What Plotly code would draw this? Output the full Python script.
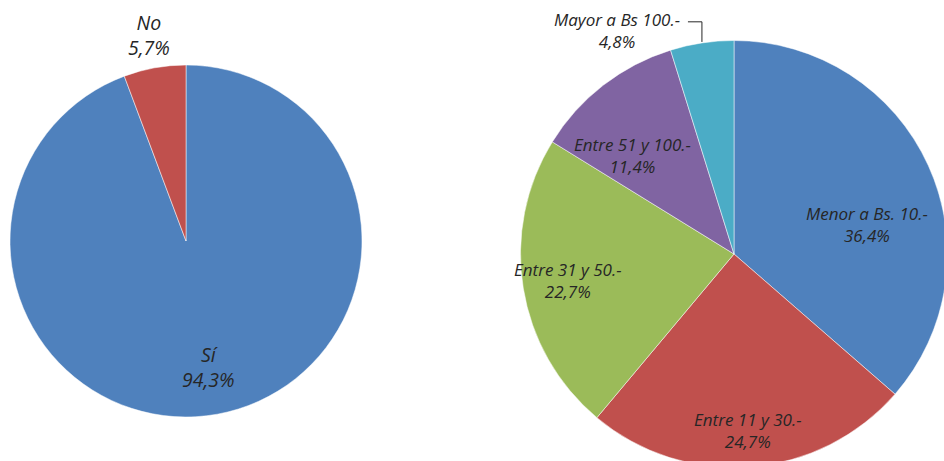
import math
import plotly.graph_objects as go

# left pie: answer yes / no
answer_labels = ["Sí", "No"]
answer_values = [94.3, 5.7]

# right pie: amount ranges
range_labels = ["Menor a Bs. 10.-", "Entre 11 y 30.-", "Entre 31 y 50.-",
                "Entre 51 y 100.-", "Mayor a Bs 100.-"]
range_values = [36.4, 24.7, 22.7, 11.4, 4.8]

blue, red, green, purple, teal = "#4F81BD", "#C0504D", "#9BBB59", "#8064A2", "#4BACC6"

# canvas a bit bigger than the window so the right pie gets clipped like the original
W, H = 952, 470

# pie geometry in pixels (centre x, centre y from top, radius)
left_geo = (186, 241, 176)
right_geo = (734, 254, 213.5)

# label placement per slice: (radius fraction, angle shift in degrees)
left_place = [(0.73, 0), (1.19, 0)]
right_place = [(0.64, 12), (0.83, 0), (0.79, 0), (0.66, -8), (1.18, -19)]


def domain(geo):
    cx, cy, r = geo
    return dict(x=[(cx - r) / W, (cx + r) / W], y=[1 - (cy + r) / H, 1 - (cy - r) / H])


def fmt(v):
    return f"{v:.1f}%".replace(".", ",")


def slice_points(geo, values, place):
    # bisector angle of each slice (clockwise from 12 o'clock), then pixel point
    cx, cy, r = geo
    total = sum(values)
    pts, acc = [], 0
    for v, (frac, shift) in zip(values, place):
        mid = (acc + v / 2) / total * 360
        acc += v
        a = math.radians(mid + shift)
        pts.append((cx + frac * r * math.sin(a), cy - frac * r * math.cos(a), math.radians(mid)))
    return pts


fig = go.Figure()
fig.add_trace(go.Pie(
    labels=answer_labels, values=answer_values, textinfo="none",
    sort=False, direction="clockwise", rotation=0,
    marker=dict(colors=[blue, red], line=dict(color="white", width=0.5)),
    domain=domain(left_geo), hoverinfo="label+percent", showlegend=False))
fig.add_trace(go.Pie(
    labels=range_labels, values=range_values, textinfo="none",
    sort=False, direction="clockwise", rotation=0,
    marker=dict(colors=[blue, red, green, purple, teal], line=dict(color="white", width=0.5)),
    domain=domain(right_geo), hoverinfo="label+percent", showlegend=False))

# data labels
for geo, labels, values, place, size in [(left_geo, answer_labels, answer_values, left_place, 19.5),
                                         (right_geo, range_labels, range_values, right_place, 17)]:
    for (px, py, _), lab, val in zip(slice_points(geo, values, place), labels, values):
        fig.add_annotation(x=px / W, y=1 - py / H, xref="paper", yref="paper",
                           text=f"{lab}<br>{fmt(val)}", showarrow=False, align="center",
                           xanchor="center", yanchor="middle",
                           font=dict(family="Open Sans", size=size, color="#262626", style="italic"))

# leader line for the small outside slice on the right
cx, cy, r = right_geo
lx, ly, mid = slice_points(right_geo, range_values, right_place)[-1]
ex, ey = cx + r * math.sin(mid), cy - r * math.cos(mid)
fig.add_shape(type="path", xref="paper", yref="paper",
              path=f"M {ex / W},{1 - (ey - 1) / H} L {ex / W},{1 - (ly - 9) / H} "
                   f"L {(ex - 14) / W},{1 - (ly - 9) / H}",
              line=dict(color="#262626", width=1))

fig.update_layout(width=W, height=H, margin=dict(l=0, r=0, t=0, b=0),
                  paper_bgcolor="white", plot_bgcolor="white")

fig.write_html("out.html", config={"displayModeBar": False},
               post_script="document.body.style.margin='0';document.body.style.overflow='hidden';")
